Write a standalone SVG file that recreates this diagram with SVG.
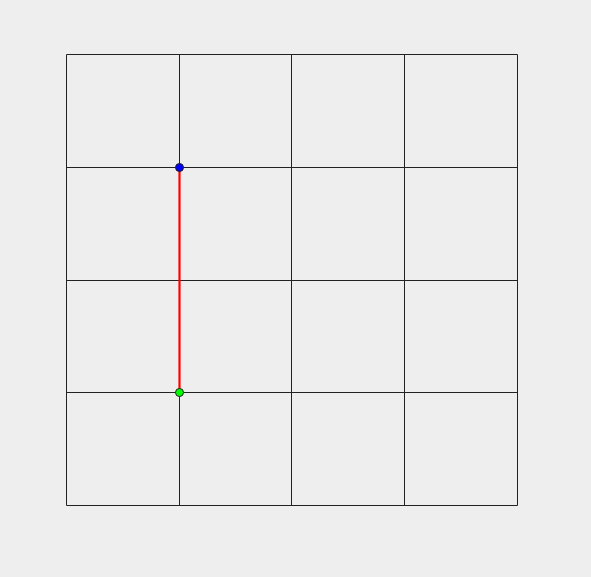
<svg xmlns="http://www.w3.org/2000/svg" width="591" height="577" viewBox="0 0 591 577">
<style>
.g{stroke:#222;stroke-width:1;fill:none}
.dot{stroke:#222;stroke-width:1}
</style>
<rect width="591" height="577" fill="#eeeeee"/>
<g id="grid" class="g">
<path d="M66.5 54.5V505.5M179.5 54.5V505.5M291.5 54.5V505.5M404.5 54.5V505.5M517.5 54.5V505.5"/>
<path d="M66.5 54.5H517.5M66.5 167.5H517.5M66.5 280.5H517.5M66.5 392.5H517.5M66.5 505.5H517.5"/>
</g>
<g id="connectors">
<line x1="179.5" y1="167.5" x2="179.5" y2="392.5" stroke="#ff0000" stroke-width="2.2"/>
</g>
<g id="start"><circle class="dot" cx="179.5" cy="167.5" r="4" fill="#0000ff"/></g>
<g id="end"><circle class="dot" cx="179.5" cy="392.5" r="4" fill="#00ff00"/></g>
</svg>
